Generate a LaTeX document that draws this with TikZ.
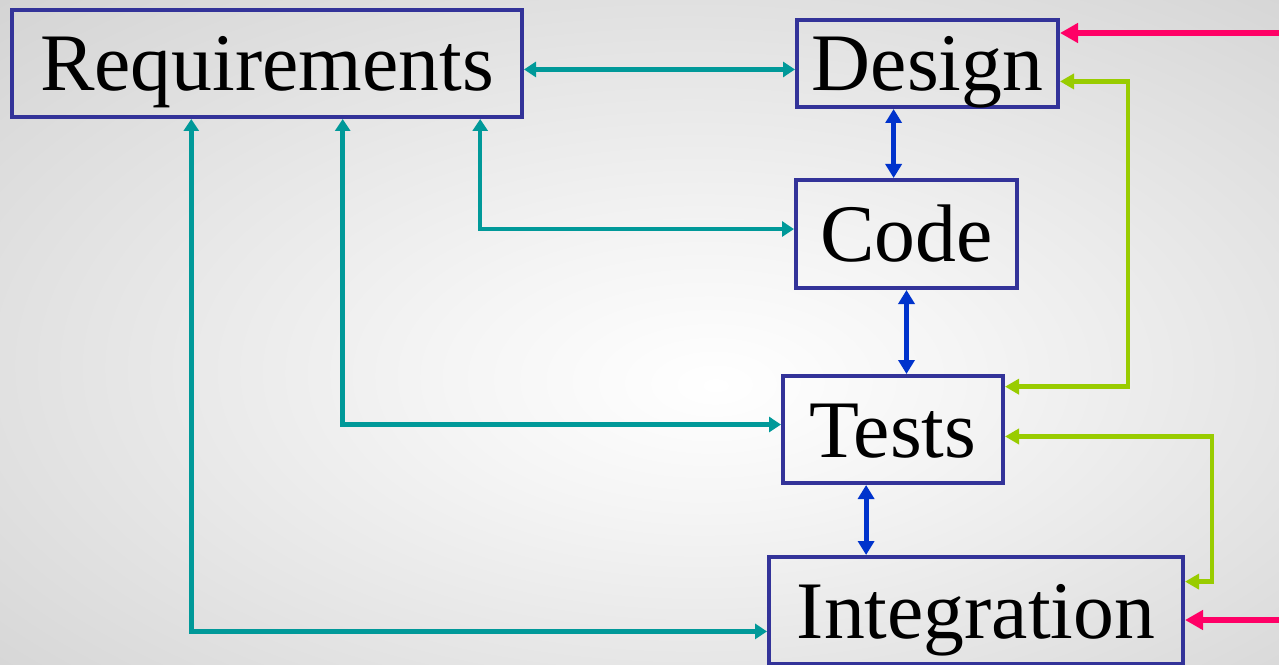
\documentclass[tikz,border=0pt]{standalone}
\usepackage{fontspec}
\setmainfont{Liberation Serif}
\usetikzlibrary{arrows.meta}
\definecolor{boxblue}{HTML}{333399}
\definecolor{tealc}{HTML}{009999}
\definecolor{bluec}{HTML}{0033CC}
\definecolor{greenc}{HTML}{99CC00}
\definecolor{pinkc}{HTML}{FF0066}
\pgfdeclareradialshading{slidebg}{\pgfpoint{3bp}{-4bp}}{color(0bp)=(white); color(10bp)=(gray!8); color(68bp)=(gray!62)}
\tikzset{
  phase/.style={draw=boxblue, line width=4bp, inner sep=0pt, text height=66bp, text depth=11bp,
    font=\fontsize{82}{82}\selectfont},
  tealline/.style={tealc, line width=4.5bp, {Triangle[length=12bp,width=15bp]}-{Triangle[length=12bp,width=15bp]}},
  blueline/.style={bluec, line width=5bp, {Triangle[length=14bp,width=16bp]}-{Triangle[length=14bp,width=16bp]}},
  greenline/.style={greenc, line width=4.5bp, {Triangle[length=14bp,width=15bp]}-{Triangle[length=14bp,width=15bp]}},
  pinkline/.style={pinkc, line width=5.5bp, -{Triangle[length=18bp,width=19bp]}}
}
\begin{document}
\begin{tikzpicture}[x=1bp, y=-1bp]
\useasboundingbox (0,0) rectangle (1279,665);
\shade[shading=slidebg] (0,0) rectangle (1279,665);

\node[phase, minimum width=510bp, minimum height=107bp] (req) at (267,63.5) {Requirements};
\node[phase, minimum width=261bp, minimum height=87bp] (design) at (927.5,63.5) {Design};
\node[phase, minimum width=221bp, minimum height=108bp] (code) at (906.5,234) {Code};
\node[phase, minimum width=220bp, minimum height=107bp] (tests) at (893,429.5) {Tests};
\node[phase, minimum width=414bp, minimum height=107bp] (integ) at (976,610.5) {Integration};

% requirements feed every phase
\draw[tealline] ([yshift=-6]req.east) -- ([yshift=-6]req.east -| design.west);
\draw[tealline] ([xshift=214]req.south) |- ([yshift=5]code.west);
\draw[tealline] ([xshift=76]req.south) |- ([yshift=5]tests.west);
\draw[tealline] ([xshift=-76]req.south) |- ([yshift=-21]integ.west);

% phase to phase
\draw[blueline] ([xshift=-34]design.south) -- ([xshift=-34]design.south |- code.north);
\draw[blueline] (code.south) -- (code.south |- tests.north);
\draw[blueline] ([xshift=-27]tests.south) -- ([xshift=-27]tests.south |- integ.north);

\draw[greenline] ([yshift=-18]design.east) -- ++(68,0) |- ([yshift=43]tests.east);
\draw[greenline] ([yshift=-7]tests.east) -- ++(207,0) |- ([yshift=29]integ.east);

\coordinate (inA) at (1279,33);
\coordinate (inB) at (1279,620);
\draw[pinkline] (inA) -- (inA -| design.east);
\draw[pinkline] (inB) -- (inB -| integ.east);
\end{tikzpicture}
\end{document}
